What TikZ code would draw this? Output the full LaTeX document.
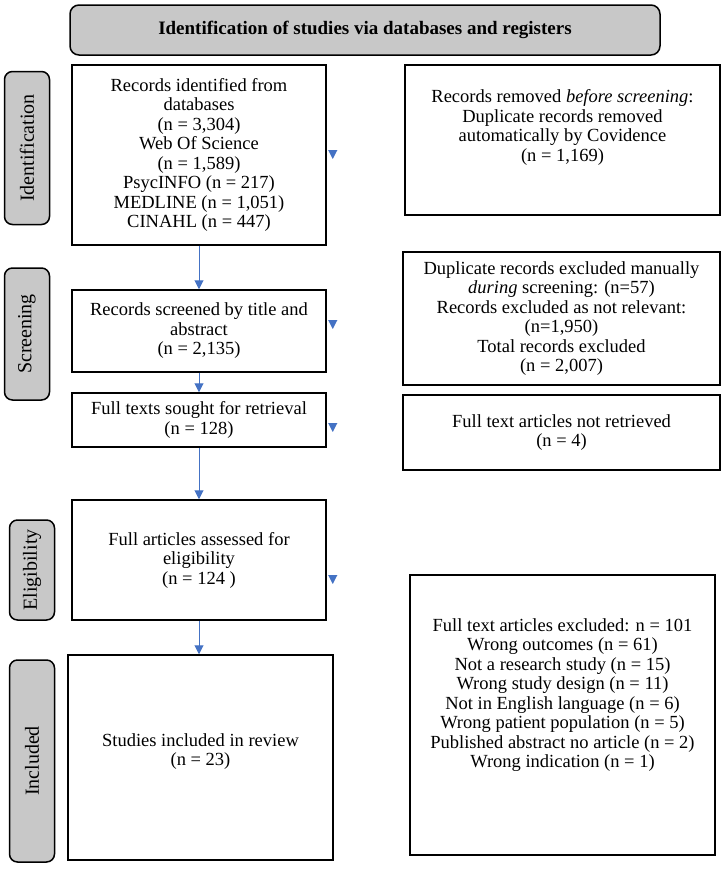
\documentclass[tikz,border=0pt]{standalone}
\usepackage{fontspec}
\setmainfont{Liberation Serif}
\usepackage{xcolor}
\usetikzlibrary{positioning,calc,arrows.meta}
\definecolor{flowblue}{HTML}{4472C4}
\definecolor{phasegray}{HTML}{C8C8C8}

\begin{document}
\begin{tikzpicture}[x=1pt,y=-1pt,
every node/.style = {align=center, inner sep=0pt,
	font=\fontsize{18.5}{19.5}\selectfont},
box/.style = {draw=black, line width=1.5pt},
head/.style = {draw=black, line width=1.5pt, rounded corners=9pt,
	fill=phasegray, minimum width=590pt, minimum height=50pt,
	font=\fontsize{19}{22}\selectfont\bfseries},
phase/.style = {draw=black, line width=1.5pt, rounded corners=8pt,
	fill=phasegray, rotate=90, minimum height=45pt,
	font=\fontsize{20}{22}\selectfont},
arr/.style = {-{Triangle[length=9pt,width=9pt]}, draw=flowblue, line width=1pt},
tip/.style = {-{Triangle[length=9pt,width=9pt]}, draw=flowblue, line width=1pt}
]
\useasboundingbox (0,0) rectangle (722,873);

\node[head] (head) at (365,30)
	{Identification of studies via databases and registers};

% phases on the left
\node[phase, minimum width=153pt] (ident) at (27,148) {Identification};
\node[phase, minimum width=132pt] (scrn) at (27,334) {Screening};
\node[phase, minimum width=100pt] (elig) at (32,570) {Eligibility};
\node[phase, minimum width=202pt] (incl) at (32,761) {Included};

% main column
\node[box, minimum width=254pt, minimum height=180pt] (rec) at (199,155){
	Records identified from\\
	databases\\
	(n = 3,304)\\
	Web Of Science\\
	(n = 1,589)\\
	PsycINFO (n = 217)\\
	MEDLINE (n = 1,051)\\
	CINAHL (n = 447)
	};
\node[box, minimum width=254pt, minimum height=82pt] (scr) at (199,331){
	Records screened by title and\\
	abstract\\
	(n = 2,135)
	};
\node[box, minimum width=254pt, minimum height=54pt] (sought) at (199,420){
	Full texts sought for retrieval\\
	(n = 128)
	};
\node[box, minimum width=254pt, minimum height=120pt] (full) at (199,560){
	Full articles assessed for\\
	eligibility\\
	(n = 124 )
	};
\node[box, minimum width=265pt, minimum height=205pt, text depth=16pt]
	(study) at (200.5,757.5){
	Studies included in review\\
	(n = 23)
	};

% excluded column
\node[box, minimum width=315pt, minimum height=150pt, text depth=29pt]
	(rem) at (562.5,140){
	Records removed \emph{before screening}:\\
	Duplicate records removed\\
	automatically by Covidence\\
	(n = 1,169)
	};
\node[box, minimum width=317pt, minimum height=133pt] (dup) at (561.5,318.5){
	Duplicate records excluded manually\\
	\emph{during} screening: (n=57)\\
	Records excluded as not relevant:\\
	(n=1,950)\\
	Total records excluded\\
	(n = 2,007)
	};
\node[box, minimum width=317pt, minimum height=75pt] (nret) at (561.5,432.5){
	Full text articles not retrieved\\
	(n = 4)
	};
\node[box, minimum width=305pt, minimum height=280pt, text depth=44pt]
	(excl) at (562.5,715){
	Full text articles excluded: n = 101\\
	Wrong outcomes (n = 61)\\
	Not a research study (n = 15)\\
	Wrong study design (n = 11)\\
	Not in English language (n = 6)\\
	Wrong patient population (n = 5)\\
	Published abstract no article (n = 2)\\
	Wrong indication (n = 1)
	};

% flow
\draw[arr] (rec) -- (scr);
\draw[arr] (scr) -- (sought);
\draw[arr] (sought) -- (full);
\draw[arr] (full.south) -- (full.south |- study.north);

% loose heads beside the boxes
\coordinate (t1) at ($(rec.east)+(6,4)$);
\coordinate (t2) at ($(scr.east)+(6,-2)$);
\coordinate (t3) at ($(sought.east)+(6,12)$);
\coordinate (t4) at ($(full.east)+(6,24)$);
\foreach \t in {t1,t2,t3,t4}
	\draw[tip] ($(\t)+(0,-9)$) -- (\t);
\end{tikzpicture}
\end{document}
